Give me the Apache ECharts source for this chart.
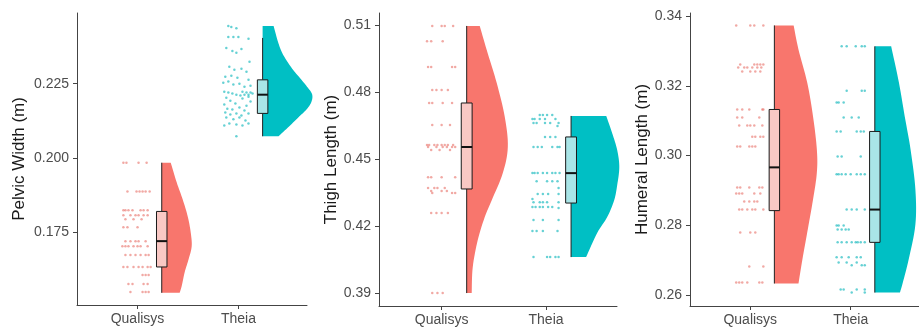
<!DOCTYPE html>
<html>
<head>
<meta charset="utf-8">
<script src="https://cdn.jsdelivr.net/npm/echarts@6/dist/echarts.min.js"></script>
<style>
  html, body { margin: 0; padding: 0; background: #fff; }
  #chart { width: 919px; height: 329px; }
</style>
</head>
<body>
<div id="chart"></div>
<script>
const categories = ['Qualisys', 'Theia'];
const groupColors = ['#F8766D', '#00BFC4'];
const pointColors = ['rgba(232,112,104,0.75)', 'rgba(0,178,183,0.75)'];
const boxFills = ['#f9c8c4', '#a9e5e7'];

const pelvicTicks = [0.175, 0.200, 0.225];
const thighTicks = [0.39, 0.42, 0.45, 0.48, 0.51];
const humeralTicks = [0.26, 0.28, 0.30, 0.32, 0.34];

// box stats: [min, q1, median, q3, max]
const pelvicBox = [[0.1546, 0.1633, 0.1720, 0.1820, 0.1984], [0.2073, 0.2150, 0.2213, 0.2263, 0.2404]];
const thighBox = [[0.3900, 0.4366, 0.4554, 0.4751, 0.5096], [0.4061, 0.4303, 0.4437, 0.4599, 0.4693]];
const humeralBox = [[0.2633, 0.2842, 0.2966, 0.3132, 0.3373], [0.2607, 0.2751, 0.2845, 0.3069, 0.3313]];

// half violin: [value, density width]
const pelvicViolinQ = [[0.1546, 0.178], [0.1569, 0.198], [0.1616, 0.228], [0.1660, 0.267], [0.1703, 0.297], [0.1750, 0.287], [0.1804, 0.257], [0.1860, 0.208], [0.1917, 0.149], [0.1984, 0.089]];
const pelvicViolinT = [[0.2073, 0.158], [0.2106, 0.262], [0.2140, 0.365], [0.2165, 0.440], [0.2190, 0.485], [0.2215, 0.490], [0.2240, 0.440], [0.2263, 0.385], [0.2307, 0.280], [0.2364, 0.180], [0.2444, 0.109]];
const thighViolinQ = [[0.3900, 0.048], [0.4016, 0.058], [0.4137, 0.106], [0.4240, 0.173], [0.4316, 0.240], [0.4437, 0.346], [0.4554, 0.394], [0.4688, 0.365], [0.4840, 0.288], [0.4988, 0.192], [0.5096, 0.125]];
const thighViolinT = [[0.4061, 0.144], [0.4169, 0.250], [0.4240, 0.346], [0.4316, 0.413], [0.4384, 0.442], [0.4464, 0.462], [0.4540, 0.442], [0.4616, 0.394], [0.4693, 0.337]];
const humeralViolinQ = [[0.2633, 0.240], [0.2702, 0.279], [0.2779, 0.327], [0.2874, 0.385], [0.2951, 0.423], [0.3017, 0.423], [0.3112, 0.385], [0.3209, 0.327], [0.3304, 0.240], [0.3373, 0.192]];
const humeralViolinT = [[0.2607, 0.250], [0.2636, 0.279], [0.2702, 0.337], [0.2802, 0.404], [0.2903, 0.404], [0.3017, 0.356], [0.3112, 0.298], [0.3209, 0.240], [0.3313, 0.163]];

// raw points: [value, [horizontal jitter offsets]]
const pelvicPointsQ = [
  [0.1984, [-0.14, -0.11, 0.01, 0.09]],
  [0.1887, [-0.10, -0.01, 0.02, 0.05, 0.08, 0.12]],
  [0.1824, [-0.14, -0.12, -0.09, -0.05, 0.03, 0.06, 0.10]],
  [0.1807, [-0.14, -0.07, -0.02, 0.01, 0.06, 0.10]],
  [0.1794, [-0.12, -0.04, 0.04]],
  [0.1767, [-0.14, -0.10, 0.00]],
  [0.1720, [-0.12, -0.07, -0.02, 0.01, 0.08]],
  [0.1703, [-0.15, -0.12, -0.09, -0.04, 0.00, 0.03, 0.10]],
  [0.1673, [-0.12, -0.07, -0.02, 0.03, 0.08, 0.11]],
  [0.1633, [-0.14, -0.10, -0.04, 0.01, 0.05, 0.10, 0.13]],
  [0.1606, [0.05, 0.08, 0.11]],
  [0.1576, [-0.09, -0.05, 0.06, 0.10]],
  [0.1549, [-0.07, 0.05, 0.08, 0.11]]
];
const pelvicPointsT = [
  [0.2444, [-0.10]], [0.2441, [-0.07]], [0.2437, [-0.02]], [0.2407, [-0.10, -0.05, 0.00]], [0.2401, [0.10]],
  [0.2370, [-0.12]], [0.2367, [0.03]], [0.2360, [-0.06]], [0.2354, [-0.02]], [0.2324, [0.11]],
  [0.2307, [-0.09]], [0.2300, [0.03]], [0.2297, [-0.04]], [0.2290, [0.08]], [0.2277, [-0.07]],
  [0.2273, [-0.13]], [0.2270, [-0.01]], [0.2263, [0.10]], [0.2257, [-0.10]], [0.2253, [-0.15]],
  [0.2250, [0.01]], [0.2247, [-0.05]], [0.2243, [0.12]], [0.2240, [0.06]], [0.2223, [-0.14, 0.04]],
  [0.2220, [-0.10, 0.08, 0.12]], [0.2217, [-0.06, 0.14]], [0.2213, [-0.02, 0.06, 0.10]], [0.2210, [0.02]],
  [0.2206, [0.10]], [0.2203, [-0.12]], [0.2200, [0.04]], [0.2193, [-0.08]], [0.2190, [0.12]],
  [0.2183, [-0.03]], [0.2180, [-0.14]], [0.2176, [0.08]], [0.2170, [0.01]], [0.2166, [-0.11]],
  [0.2163, [-0.06]], [0.2160, [0.06]], [0.2153, [-0.13]], [0.2150, [-0.02, 0.10]], [0.2146, [-0.08]],
  [0.2143, [0.03]], [0.2136, [-0.12, 0.01]], [0.2130, [-0.05]], [0.2126, [0.07]], [0.2116, [-0.09, 0.10]],
  [0.2113, [-0.02]], [0.2109, [0.04, -0.14]], [0.2073, [-0.02]]
];
const thighPointsQ = [
  [0.5096, [-0.09, 0.00, 0.03, 0.11]],
  [0.5028, [-0.14, -0.10, 0.01]],
  [0.4912, [-0.13, -0.10, 0.10, 0.13]],
  [0.4809, [-0.09, -0.05, 0.00, 0.06]],
  [0.4751, [-0.12, -0.09, 0.01, 0.10]],
  [0.4652, [-0.09, 0.00, 0.08]],
  [0.4563, [-0.14, -0.12, -0.07, -0.04, 0.00, 0.03, 0.06, 0.11]],
  [0.4554, [-0.13, -0.05, 0.01, 0.05, 0.10, 0.13]],
  [0.4540, [-0.10, -0.02, 0.08]],
  [0.4419, [-0.13, -0.10, 0.00, 0.13]],
  [0.4370, [-0.13, -0.07, -0.04, 0.03]],
  [0.4357, [-0.10, 0.00, 0.05]],
  [0.4348, [-0.09, 0.10, 0.13]],
  [0.4258, [-0.10, -0.05, 0.00, 0.06]],
  [0.3900, [-0.09, -0.04, 0.01]]
];
const thighPointsT = [
  [0.4697, [-0.06, -0.03, 0.01, 0.06]],
  [0.4679, [-0.13, -0.11, -0.06, -0.01, 0.09]],
  [0.4661, [-0.12, -0.09, -0.01, 0.04, 0.12]],
  [0.4648, [0.11]],
  [0.4599, [-0.01, 0.04, 0.09]],
  [0.4554, [-0.12, -0.08, -0.04, 0.06, 0.11, 0.13]],
  [0.4437, [-0.13, -0.11, -0.08, -0.03, 0.01, 0.06, 0.09, 0.13]],
  [0.4401, [-0.09, 0.01, 0.06, 0.11]],
  [0.4370, [0.12]],
  [0.4343, [-0.08, -0.03, 0.02, 0.12]],
  [0.4321, [-0.13]],
  [0.4307, [-0.12, -0.06, -0.03, 0.01, 0.12]],
  [0.4285, [-0.13, -0.10, -0.06, -0.03, 0.02, 0.06]],
  [0.4281, [0.12]],
  [0.4227, [-0.12, -0.03, 0.12]],
  [0.4178, [-0.13, -0.09, -0.03, 0.11]],
  [0.4061, [-0.12, 0.01, 0.04, 0.09, 0.12]]
];
const humeralPointsQ = [
  [0.3373, [-0.14, 0.00, 0.04, 0.13]],
  [0.3261, [-0.10, 0.04, 0.07, 0.10, 0.13]],
  [0.3252, [-0.12, -0.06, -0.03, 0.02, 0.07, 0.11]],
  [0.3241, [-0.08, 0.00, 0.05, 0.10]],
  [0.3132, [-0.13, -0.08, -0.01, 0.12, 0.13]],
  [0.3109, [-0.13, -0.08, 0.09]],
  [0.3086, [-0.11, -0.03, 0.00, 0.04, 0.12]],
  [0.3054, [0.02, 0.05, 0.10, 0.13]],
  [0.3026, [-0.13, -0.10, -0.01, 0.02, 0.05]],
  [0.2908, [-0.13, -0.10, -0.01, 0.09, 0.12]],
  [0.2891, [-0.14, -0.11, -0.08, 0.04, 0.10]],
  [0.2868, [-0.06, -0.01, 0.04, 0.07]],
  [0.2845, [-0.11, -0.08, -0.03, 0.02, 0.05, 0.13]],
  [0.2779, [-0.10, 0.00, 0.05]],
  [0.2682, [-0.01, 0.13]],
  [0.2636, [-0.14, -0.11, -0.08, -0.03, 0.09, 0.12]]
];
const humeralPointsT = [
  [0.3313, [-0.09, -0.04, 0.05, 0.11, 0.14]],
  [0.3186, [-0.04, 0.11, 0.14]],
  [0.3152, [-0.14, -0.12, -0.07]],
  [0.3109, [-0.07, 0.01, 0.08]],
  [0.3069, [-0.14, -0.10, 0.06, 0.10, 0.13]],
  [0.2997, [-0.13, -0.09, 0.10]],
  [0.2946, [-0.14, -0.12, -0.09, -0.05, 0.00, 0.06, 0.10, 0.14]],
  [0.2845, [-0.04, 0.01, 0.06, 0.14]],
  [0.2799, [-0.14, -0.12, -0.07]],
  [0.2788, [-0.13, -0.09, -0.05, -0.02]],
  [0.2751, [-0.13, -0.09, -0.04, 0.01, 0.05, 0.07, 0.10, 0.14]],
  [0.2708, [-0.14, -0.09, -0.02, 0.06, 0.10]],
  [0.2693, [-0.12, -0.04, 0.06]],
  [0.2685, [0.01, 0.11, 0.14]],
  [0.2616, [-0.10, -0.07, 0.06, 0.14]],
  [0.2607, [0.01, 0.14]]
];

const panels = [
  { name: 'Pelvic Width (m)', left: 77, width: 230, top: 13, height: 292, min: 0.1505, max: 0.2488,
    ticks: pelvicTicks, digits: 3, nameGap: 49, box: pelvicBox,
    violins: [pelvicViolinQ, pelvicViolinT], points: [pelvicPointsQ, pelvicPointsT] },
  { name: 'Thigh Length (m)', left: 379, width: 238, top: 13, height: 293, min: 0.3842, max: 0.5154,
    ticks: thighTicks, digits: 2, nameGap: 38, box: thighBox,
    violins: [thighViolinQ, thighViolinT], points: [thighPointsQ, thighPointsT] },
  { name: 'Humeral Length (m)', left: 690, width: 238, top: 13, height: 293, min: 0.25685, max: 0.34086,
    ticks: humeralTicks, digits: 2, nameGap: 38, box: humeralBox,
    violins: [humeralViolinQ, humeralViolinT], points: [humeralPointsQ, humeralPointsT] }
];

const violinBase = [1.24, 2.24];
const boxHalf = 0.052;
const axisColor = '#444';
const font = 'Liberation Sans, Arial, sans-serif';

// catmull-rom through pixel points so the density outline is smooth
function smoothLine(pts, steps) {
  const out = [];
  for (let i = 0; i < pts.length - 1; i++) {
    const p0 = pts[Math.max(i - 1, 0)], p1 = pts[i], p2 = pts[i + 1], p3 = pts[Math.min(i + 2, pts.length - 1)];
    for (let s = 0; s < steps; s++) {
      const t = s / steps, t2 = t * t, t3 = t2 * t;
      out.push([0, 1].map(k => 0.5 * ((2 * p1[k]) + (-p0[k] + p2[k]) * t +
        (2 * p0[k] - 5 * p1[k] + 4 * p2[k] - p3[k]) * t2 + (-p0[k] + 3 * p1[k] - 3 * p2[k] + p3[k]) * t3)));
    }
  }
  out.push(pts[pts.length - 1]);
  return out;
}

const chart = echarts.init(document.getElementById('chart'), null, { renderer: 'canvas' });

const grid = [], xAxis = [], yAxis = [], series = [];
panels.forEach((p, i) => {
  grid.push({ left: p.left, top: p.top, width: p.width, height: p.height });
  xAxis.push({
    gridIndex: i, type: 'value', min: 0.4, max: 2.68,
    splitLine: { show: false },
    axisLine: { show: true, onZero: false, lineStyle: { color: axisColor, width: 1 } },
    axisTick: { show: true, customValues: [1, 2], length: 4, lineStyle: { color: axisColor } },
    axisLabel: { customValues: [1, 2], formatter: v => categories[Math.round(v) - 1],
      fontSize: 14, color: '#4d4d4d', margin: 7, fontFamily: font }
  });
  yAxis.push({
    gridIndex: i, type: 'value', min: p.min, max: p.max,
    name: p.name, nameLocation: 'middle', nameGap: p.nameGap,
    nameTextStyle: { fontSize: 17, color: '#1a1a1a', fontFamily: font },
    splitLine: { show: false },
    axisLine: { show: true, onZero: false, lineStyle: { color: axisColor, width: 1 } },
    axisTick: { show: true, customValues: p.ticks, length: 4, lineStyle: { color: axisColor } },
    axisLabel: { customValues: p.ticks, formatter: v => v.toFixed(p.digits),
      fontSize: 14, color: '#4d4d4d', margin: 8, fontFamily: font }
  });

  // jittered raw points
  p.points.forEach((rows, g) => {
    const data = [];
    rows.forEach(r => r[1].forEach(off => data.push([g + 1 + off, r[0]])));
    series.push({
      type: 'scatter', xAxisIndex: i, yAxisIndex: i, data: data,
      symbol: 'circle', symbolSize: 2.5, silent: true,
      itemStyle: { color: pointColors[g] }
    });
  });

  // half violins
  series.push({
    type: 'custom', xAxisIndex: i, yAxisIndex: i, clip: false, silent: true,
    data: p.box.map((b, g) => [violinBase[g], b[2]]),
    renderItem: function(params, api) {
      const g = params.dataIndex;
      const prof = p.violins[g];
      const base = violinBase[g];
      const pts = prof.map(d => api.coord([base + d[1], d[0]]));
      const start = api.coord([base, prof[0][0]]);
      const end = api.coord([base, prof[prof.length - 1][0]]);
      return {
        type: 'polygon',
        shape: { points: [start].concat(smoothLine(pts, 8), [end]) },
        style: { fill: groupColors[g] }
      };
    }
  });

  // boxes with whiskers
  series.push({
    type: 'custom', xAxisIndex: i, yAxisIndex: i, clip: false, silent: true,
    data: p.box.map((b, g) => [violinBase[g]].concat(b)),
    renderItem: function(params, api) {
      const g = params.dataIndex;
      const x = api.value(0);
      const lo = api.value(1), q1 = api.value(2), med = api.value(3), q3 = api.value(4), hi = api.value(5);
      const a = api.coord([x - boxHalf, q3]);
      const b = api.coord([x + boxHalf, q1]);
      const m1 = api.coord([x - boxHalf, med]);
      const m2 = api.coord([x + boxHalf, med]);
      const top = api.coord([x, hi]), qt = api.coord([x, q3]);
      const bot = api.coord([x, lo]), qb = api.coord([x, q1]);
      const line = { stroke: '#222', lineWidth: 1 };
      return {
        type: 'group',
        children: [
          { type: 'line', shape: { x1: top[0], y1: top[1], x2: qt[0], y2: qt[1] }, style: line },
          { type: 'line', shape: { x1: qb[0], y1: qb[1], x2: bot[0], y2: bot[1] }, style: line },
          { type: 'rect', shape: { x: a[0], y: a[1], width: b[0] - a[0], height: b[1] - a[1] },
            style: { fill: boxFills[g], stroke: '#1a1a1a', lineWidth: 1 } },
          { type: 'line', shape: { x1: m1[0], y1: m1[1], x2: m2[0], y2: m2[1] },
            style: { stroke: '#111', lineWidth: 2 } }
        ]
      };
    }
  });
});

chart.setOption({
  animation: false,
  backgroundColor: '#fff',
  grid: grid,
  xAxis: xAxis,
  yAxis: yAxis,
  series: series
});
</script>
</body>
</html>
